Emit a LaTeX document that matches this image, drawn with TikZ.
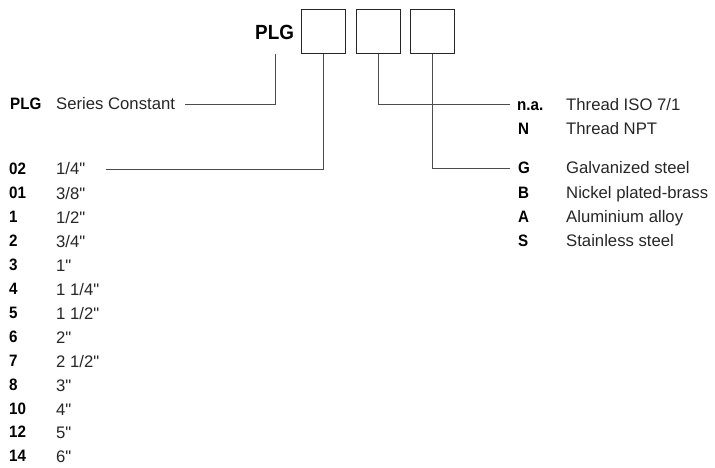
\documentclass[tikz,border=0pt]{standalone}
\usepackage{fontspec}
\newfontfamily\regfont{Liberation Sans}
\newfontfamily\boldfont{Liberation Sans Bold}[FakeStretch=0.92]
\begin{document}
\begin{tikzpicture}[x=1pt,y=-1pt,
  codebox/.style={draw=black!85,line width=0.9pt,minimum width=44pt,minimum height=44pt,inner sep=0pt,anchor=north west},
  code/.style={anchor=west,inner sep=0pt,text height=11.8pt,text depth=0pt,font=\fontsize{16.5}{18}\boldfont,text=black},
  val/.style={anchor=west,inner sep=0pt,text height=12pt,text depth=0pt,font=\fontsize{16.7}{18}\regfont,text=black!85},
  wire/.style={draw=black!70,line width=0.9pt}]
\useasboundingbox (0,0) rectangle (715,468);
% header
\node[anchor=west,inner sep=0pt,text height=15pt,text depth=0pt,font=\fontsize{20.5}{22}\boldfont,text=black] (plg) at (255,32.5) {PLG};
\node[codebox] (b1) at (301,9) {};
\node[codebox] (b2) at (356,9) {};
\node[codebox] (b3) at (410,9) {};
% left: series
\node[code] (kser) at (10,104) {PLG};
\node[val] (vser) at (56,104) {Series Constant};
\coordinate (eser) at (185,104);
% left: sizes
\foreach \k/\v/\y [count=\i] in {02/1\slash 4"/169,01/3\slash 8"/193,1/1\slash 2"/217,2/3\slash 4"/241,3/1"/265,4/1 1\slash 4"/289,5/1 1\slash 2"/313,6/2"/337,7/2 1\slash 2"/361,8/3"/385,10/4"/409,12/5"/432,14/6"/456}{
  \node[code] (k\i) at (9,\y) {\k};
  \node[val] (v\i) at (56,\y) {\v};
}
\coordinate (e02) at (106,169);
% right: thread
\node[code] (kna) at (517,104.5) {n.a.};
\node[val] (vna) at (566,104.5) {Thread ISO 7/1};
\node[code] (kn) at (518,128.5) {N};
\node[val] (vn) at (566,128.5) {Thread NPT};
% right: material
\node[code] (kg) at (518,168) {G};
\node[val] (vg) at (566,168) {Galvanized steel};
\node[code] (kb) at (518,192.5) {B};
\node[val] (vb) at (566,192.5) {Nickel plated-brass};
\node[code] (ka) at (518,216.5) {A};
\node[val] (va) at (566,216.5) {Aluminium alloy};
\node[code] (ks) at (518,240.5) {S};
\node[val] (vs) at (566,240.5) {Stainless steel};
% connectors
\draw[wire] (275,54) coordinate (plgfoot) |- (eser);
\draw[wire] (b1.south) |- (e02);
\draw[wire] (b2.south) |- ([xshift=-7pt]kna.west);
\draw[wire] (b3.south) |- ([xshift=-8pt]kg.west);
\end{tikzpicture}
\end{document}
